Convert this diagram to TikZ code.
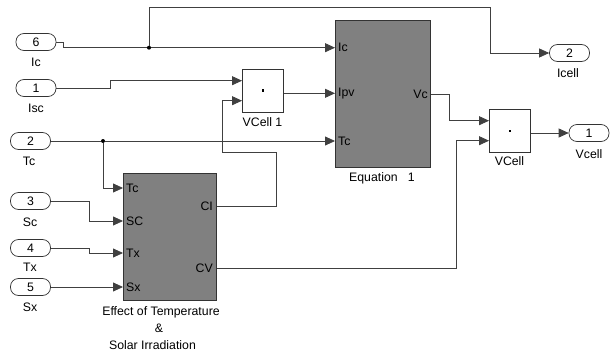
\documentclass[tikz,border=0pt]{standalone}
\usepackage{fontspec}
\setmainfont{Liberation Sans}
\usetikzlibrary{arrows.meta}
\definecolor{simgray}{RGB}{128,128,128}
\tikzset{
  port/.style={draw=black!80, line width=0.7pt, rounded corners=8pt, minimum width=40pt, minimum height=17pt, inner sep=0pt},
  blk/.style={draw=black!80, line width=0.7pt, fill=white, anchor=north west, inner sep=0pt},
  subsys/.style={blk, fill=simgray},
  wire/.style={draw=black!75, line width=0.8pt},
  sig/.style={wire, -{Triangle[length=10pt,width=9pt]}},
  jdot/.style={fill=black, circle, inner sep=0pt, minimum size=4pt},
  lbl/.style={inner sep=0pt}
}
\begin{document}
\begin{tikzpicture}[x=1pt, y=-1pt, font=\fontsize{12.3}{14}\selectfont]
    \useasboundingbox (0,0) rectangle (613,356);

    % inports
    \node[port] (in6) at (36,42) {6};
    \node[lbl] (in6l) at (36,62) {Ic};
    \node[port] (in1) at (36,88) {1};
    \node[lbl] (in1l) at (36,108) {Isc};
    \node[port] (in2) at (30.5,141) {2};
    \node[lbl] (in2l) at (29,161) {Tc};
    \node[port] (in3) at (30.5,201) {3};
    \node[lbl] (in3l) at (30,222) {Sc};
    \node[port] (in4) at (30.5,248) {4};
    \node[lbl] (in4l) at (30,267) {Tx};
    \node[port] (in5) at (30.5,287) {5};
    \node[lbl] (in5l) at (30,307) {Sx};

    % outports
    \node[port] (out2) at (569.5,53) {2};
    \node[lbl] (out2l) at (568,73) {Icell};
    \node[port] (out1) at (589,133) {1};
    \node[lbl] (out1l) at (589,154) {Vcell};

    % blocks
    \node[blk, minimum width=41pt, minimum height=42.5pt] (vc1) at (242,69) {};
    \fill (vc1.center) ++(-1.3,-1.3) rectangle ++(2.6,2.6);
    \node[lbl] (vc1l) at (262.5,122) {VCell 1};

    \node[blk, minimum width=41pt, minimum height=43pt] (vc) at (489,109) {};
    \fill (vc.center) ++(-1.3,-1.3) rectangle ++(2.6,2.6);
    \node[lbl] (vcl) at (509.5,161) {VCell};

    \node[subsys, minimum width=95pt, minimum height=147pt] (eq) at (335,20) {};
    \node[lbl, anchor=west] at (338,47.7) {Ic};
    \node[lbl, anchor=west] at (338,93.3) {Ipv};
    \node[lbl, anchor=west] at (338,141) {Tc};
    \node[lbl, anchor=east] at (428,94) {Vc};
    \node[lbl] (eql) at (382,178) {Equation \ \ 1};

    \node[subsys, minimum width=93pt, minimum height=127pt] (eff) at (123,173) {};
    \node[lbl, anchor=west] at (126,188) {Tc};
    \node[lbl, anchor=west] at (126,221) {SC};
    \node[lbl, anchor=west] at (126,253) {Tx};
    \node[lbl, anchor=west] at (126,287) {Sx};
    \node[lbl, anchor=east] at (213,206) {CI};
    \node[lbl, anchor=east] at (213,268) {CV};
    \node[lbl] (effl1) at (161,312) {Effect of Temperature};
    \node[lbl] (effl2) at (159,328) {\&};
    \node[lbl] (effl3) at (152.5,345) {Solar Irradiation};

    % junctions
    \node[jdot] (j1) at (149,47.7) {};
    \node[jdot] (j2) at (103,141) {};

    % wires
    \draw[wire] (in6.east) -- (63,42) -- (63,47.7) -- (j1);
    \draw[sig] (j1) -- (eq.west |- 0,47.7);
    \draw[sig] (j1) -- (149,7.3) -- (490,7.3) -- (490,53) -- (out2.west);
    \draw[sig] (in1.east) -- (110,88) -- (110,80.7) -- (vc1.west |- 0,80.7);
    \draw[wire] (in2.east) -- (j2);
    \draw[sig] (j2) -- (eq.west |- 0,141);
    \draw[sig] (j2) -- (103,188) -- (eff.west |- 0,188);
    \draw[sig] (eff.east |- 0,206) -- (276,206) -- (276,152) -- (222.5,152) -- (222.5,100.7) -- (vc1.west |- 0,100.7);
    \draw[sig] (vc1.east |- 0,93.3) -- (eq.west |- 0,93.3);
    \draw[sig] (eq.east |- 0,94) -- (449,94) -- (449,120.7) -- (vc.west |- 0,120.7);
    \draw[sig] (eff.east |- 0,268) -- (456,268) -- (456,140.7) -- (vc.west |- 0,140.7);
    \draw[sig] (vc.east |- 0,133) -- (out1.west);
    \draw[sig] (in3.east) -- (89,201) -- (89,221) -- (eff.west |- 0,221);
    \draw[sig] (in4.east) -- (89,248) -- (89,253) -- (eff.west |- 0,253);
    \draw[sig] (in5.east) -- (eff.west |- 0,287);
\end{tikzpicture}
\end{document}
